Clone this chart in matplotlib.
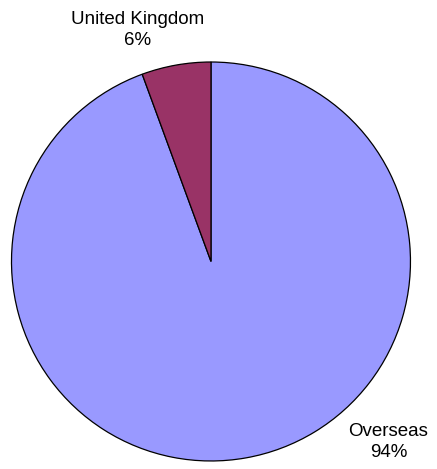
import matplotlib
matplotlib.use("Agg")
import matplotlib.pyplot as plt

# ------------------------------------------------------------------
# Data
# ------------------------------------------------------------------
labels = ["Overseas", "United Kingdom"]
shares = [94.4, 5.6]
pct_labels = ["94%", "6%"]
colors = ["#9999FF", "#993366"]

plt.rcParams["font.family"] = ["Liberation Sans", "DejaVu Sans"]

fig = plt.figure(figsize=(4.37, 4.69), dpi=100)
ax = fig.add_axes([0.0263, 0.0171, 0.913, 0.8507])

ax.pie(shares, colors=colors, startangle=90, counterclock=False,
       wedgeprops={"edgecolor": "black", "linewidth": 0.9})
ax.set_xlim(-1, 1)
ax.set_ylim(-1, 1)
ax.set_aspect("equal")

# labels placed like the original (outside the pie)
ax.text(-0.366, 1.16, labels[1] + "\n" + pct_labels[1], ha="center", va="center",
        fontsize=13.5, linespacing=1.35)
ax.text(0.89, -0.905, labels[0] + "\n" + pct_labels[0], ha="center", va="center",
        fontsize=13.5, linespacing=1.35)

fig.savefig("out.png", dpi=100)
plt.close(fig)
